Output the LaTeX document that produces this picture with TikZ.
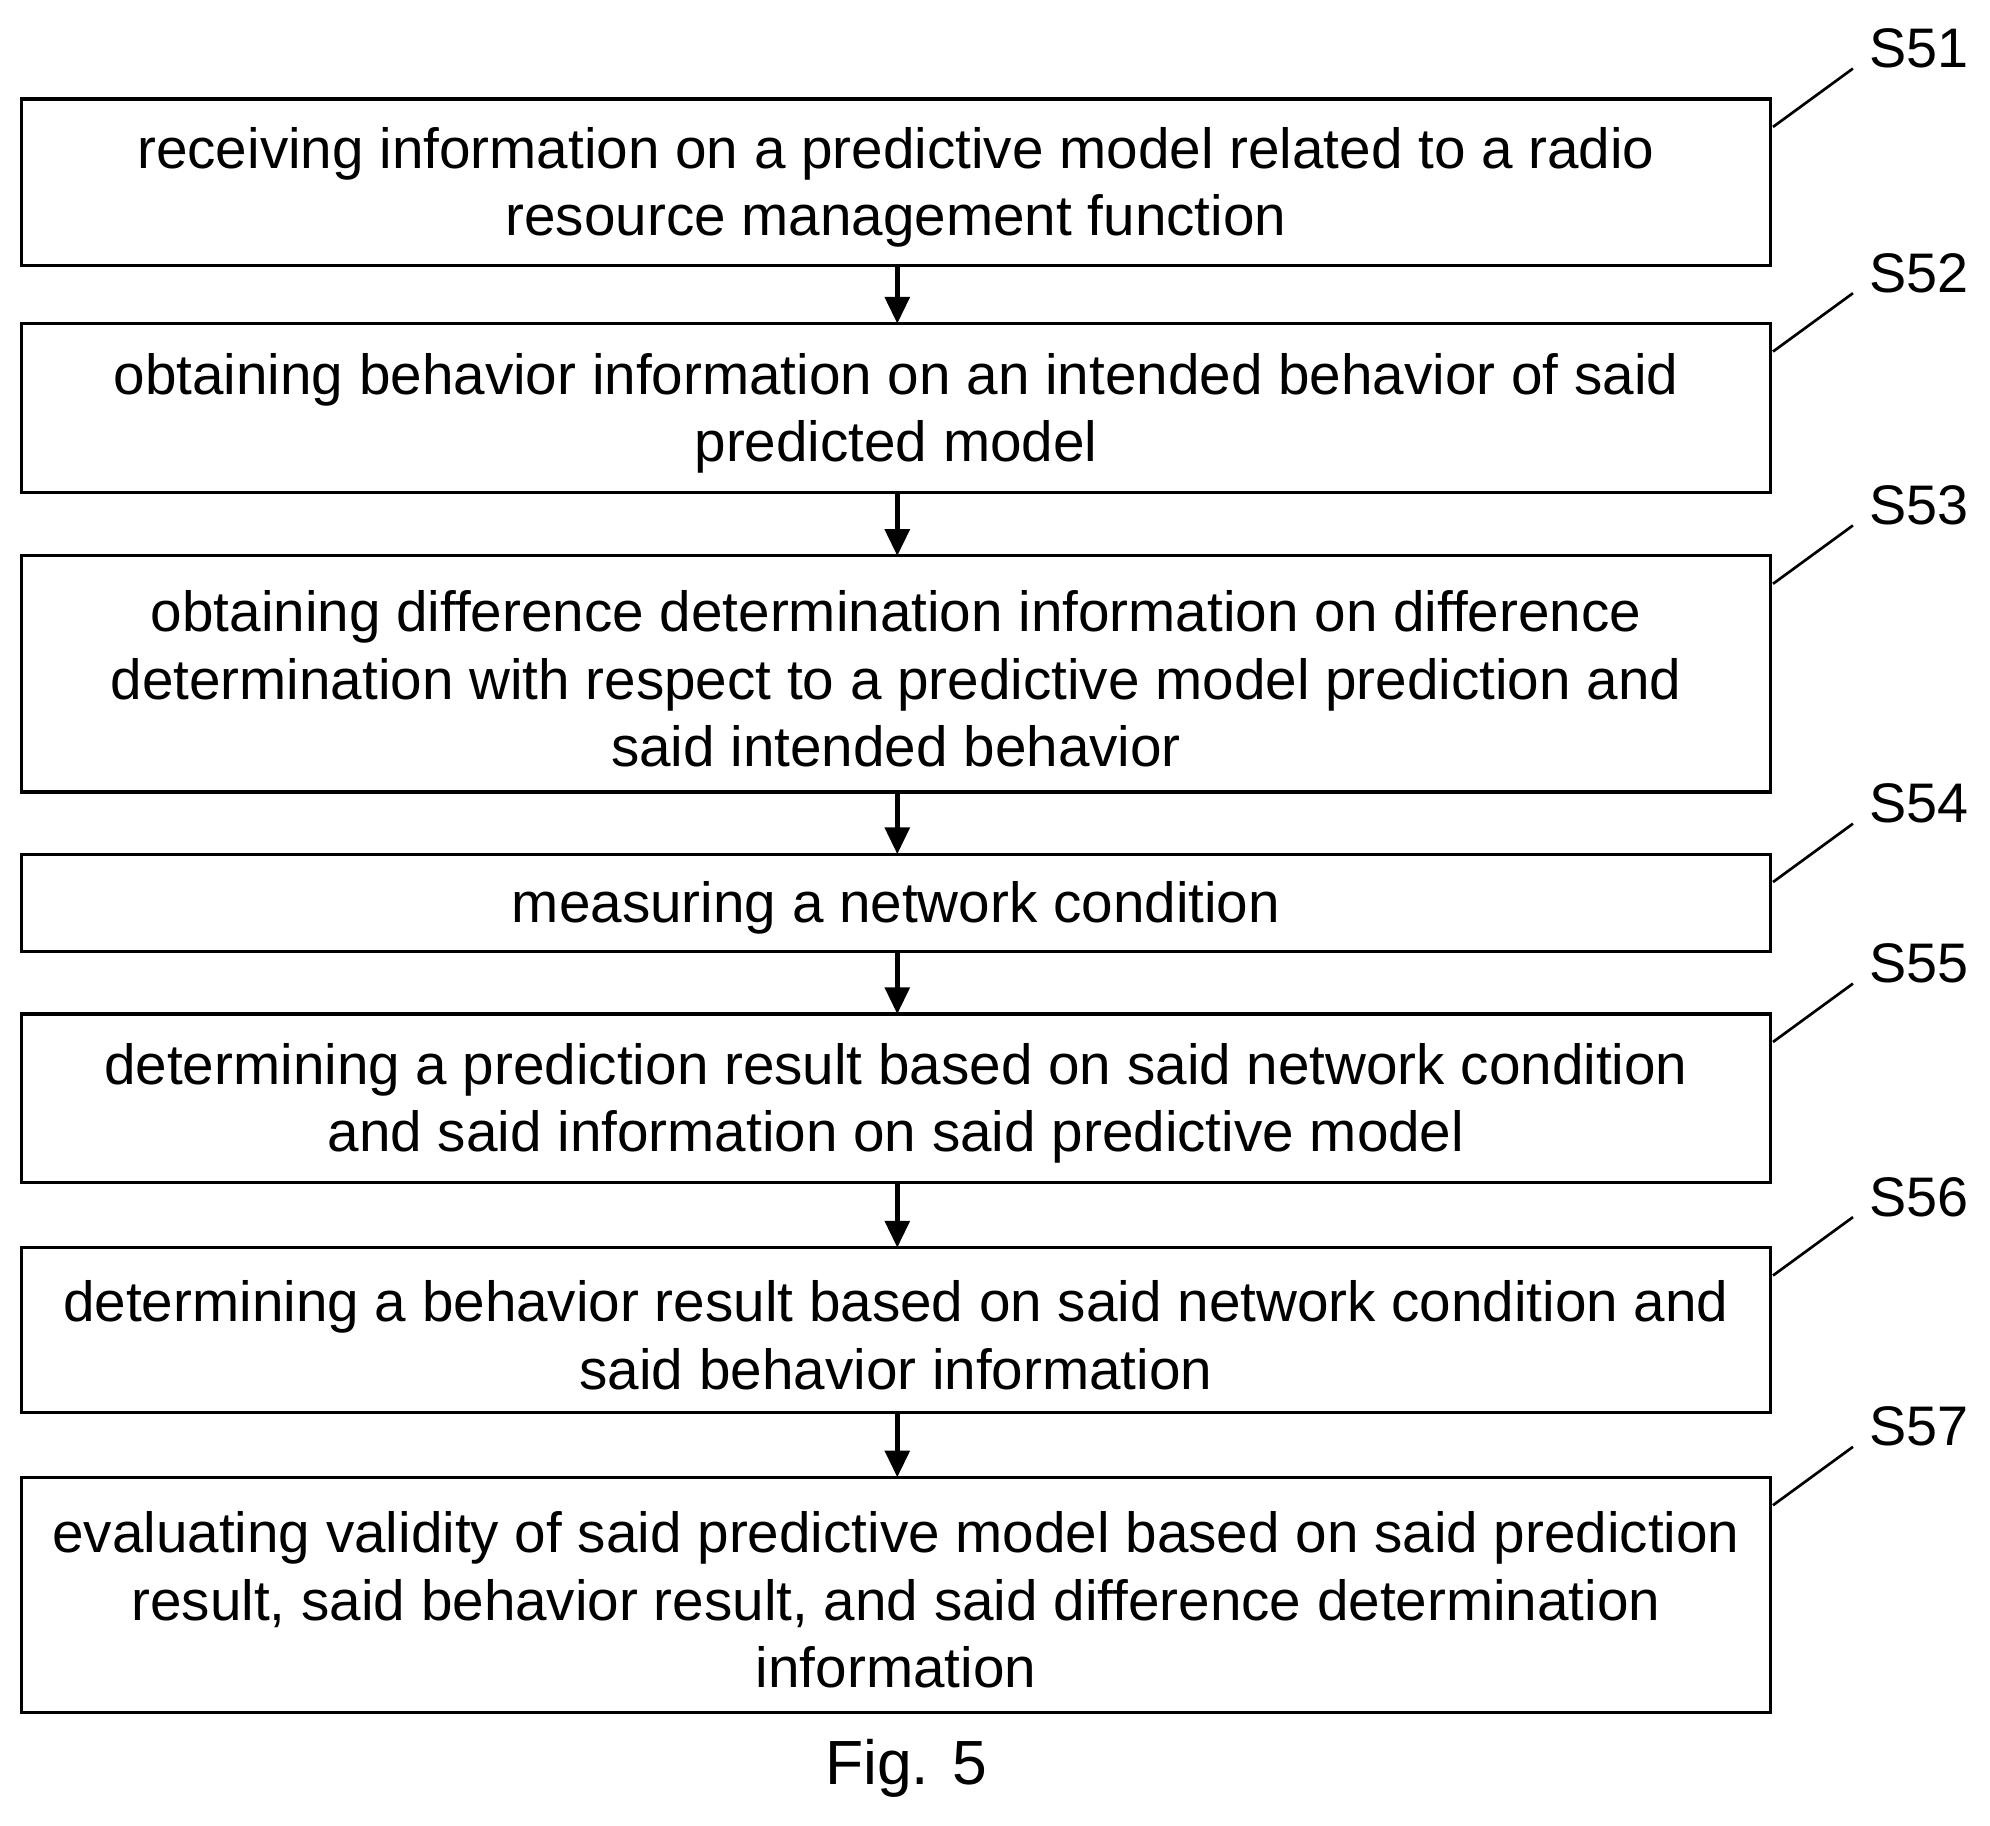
\documentclass[tikz,border=0pt]{standalone}
\usepackage{fontspec}
\setmainfont{Liberation Sans}
\usetikzlibrary{arrows.meta}
\begin{document}
\begin{tikzpicture}[x=0.02cm,y=-0.02cm,
 box/.style={draw,line width=1.4pt,rectangle,inner sep=0pt},
 txt/.style={align=center,font=\fontsize{25.4}{30.2}\selectfont},
 lab/.style={font=\fontsize{25}{30}\selectfont},
 arr/.style={line width=2pt,-{Triangle[length=12pt,width=11pt]}},
 lead/.style={line width=1.2pt}]
\useasboundingbox (0,0) rectangle (1568,1438);
\def\boxes{51/78/209,52/255/388,53/438/624,54/673/750,55/799/932,56/983/1113,57/1164/1349}
\foreach \n/\t/\b in \boxes {
  \draw[box] (17,\t) rectangle (1395,\b);
  \coordinate (t\n) at (707,\t);
  \coordinate (b\n) at (707,\b);
  \coordinate (c\n) at (706,{(\t+\b)/2+4});
  \coordinate (la\n) at (1397,{\t+22});
  \coordinate (lb\n) at (1460,{\t-24});
  \draw[lead] (la\n) -- (lb\n);
  \node[lab] (s\n) at (1512,{\t-40}) {S\n};
}
\node[txt] (n51) at (c51) {receiving information on a predictive model related to a radio\\resource management function};
\node[txt] (n52) at (c52) {obtaining behavior information on an intended behavior of said\\predicted model};
\node[txt] (n53) at (c53) {obtaining difference determination information on difference\\determination with respect to a predictive model prediction and\\said intended behavior};
\node[txt] (n54) at (c54) {measuring a network condition};
\node[txt] (n55) at (c55) {determining a prediction result based on said network condition\\and said information on said predictive model};
\node[txt] (n56) at (c56) {determining a behavior result based on said network condition and\\said behavior information};
\node[txt] (n57) at (c57) {evaluating validity of said predictive model based on said prediction\\result, said behavior result, and said difference determination\\information};
\draw[arr] (b51) -- (t52);
\draw[arr] (b52) -- (t53);
\draw[arr] (b53) -- (t54);
\draw[arr] (b54) -- (t55);
\draw[arr] (b55) -- (t56);
\draw[arr] (b56) -- (t57);
\node[font=\fontsize{28}{32}\selectfont] (fig) at (714,1393) {Fig. 5};
\end{tikzpicture}
\end{document}
